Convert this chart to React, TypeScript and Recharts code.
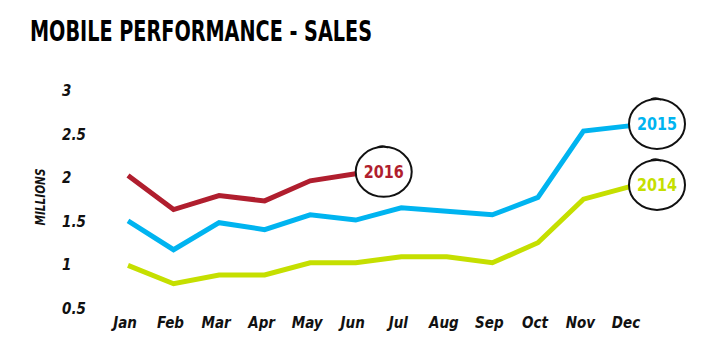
import { LineChart, Line, XAxis, YAxis } from 'recharts'

const months = ['Jan', 'Feb', 'Mar', 'Apr', 'May', 'Jun', 'Jul', 'Aug', 'Sep', 'Oct', 'Nov', 'Dec']
const sales2014 = [1.0, 0.79, 0.89, 0.89, 1.03, 1.03, 1.1, 1.1, 1.03, 1.26, 1.76, 1.9]
const sales2015 = [1.51, 1.18, 1.49, 1.41, 1.58, 1.52, 1.66, 1.62, 1.58, 1.78, 2.54, 2.6]
const sales2016 = [2.03, 1.64, 1.8, 1.74, 1.97, 2.05]
const yTicks = [0.5, 1, 1.5, 2, 2.5, 3]

const FONT = "'Liberation Sans Narrow', 'DejaVu Sans Condensed', sans-serif"

const SERIES = [
  { key: 'y2014', label: '2014', color: '#c5df00', last: sales2014.length - 1 },
  { key: 'y2015', label: '2015', color: '#00b4f0', last: sales2015.length - 1 },
  { key: 'y2016', label: '2016', color: '#b01e2e', last: sales2016.length - 1 },
]

const data = months.map((m, i) => ({
  month: m,
  y2014: sales2014[i] ?? null,
  y2015: sales2015[i] ?? null,
  y2016: sales2016[i] ?? null,
}))

function endBadge(label: string, color: string, last: number) {
  return (props: any) => {
    const { cx, cy, index } = props
    if (index !== last || cx == null || cy == null) return <g key={`d-${label}-${index}`} />
    const ex = cx + 28
    const ey = cy - 2
    return (
      <g key={`d-${label}-${index}`}>
        <ellipse cx={ex} cy={ey} rx={28} ry={25} fill="#fff" stroke="#111" strokeWidth={2} />
        <path
          d={`M ${ex - 6} ${ey - 25} q 6 -2 10 1`}
          fill="none"
          stroke="#111"
          strokeWidth={1.5}
        />
        <text
          x={ex}
          y={ey + 6}
          textAnchor="middle"
          fill={color}
          fontFamily={FONT}
          fontWeight="bold"
          fontSize={18}
          textLength={40}
          lengthAdjust="spacingAndGlyphs"
        >
          {label}
        </text>
      </g>
    )
  }
}

const YTick = (props: any) => (
  <text
    x={62}
    y={props.y}
    dy={5}
    textAnchor="start"
    fill="#111"
    fontFamily={FONT}
    fontWeight="bold"
    fontStyle="italic"
    fontSize={15}
  >
    {props.payload.value}
  </text>
)

const XTick = (props: any) => (
  <text
    x={props.x - 3}
    y={props.y}
    dy={19}
    textAnchor="middle"
    fill="#111"
    fontFamily={FONT}
    fontWeight="bold"
    fontStyle="italic"
    fontSize={15}
  >
    {props.payload.value}
  </text>
)

export default function App() {
  return (
    <div style={{ position: 'absolute', left: 0, top: 0, width: 706, height: 353, background: '#fff' }}>
      <LineChart width={706} height={353} data={data} margin={{ top: 91, right: 77, left: 0, bottom: 14 }}>
        <XAxis
          dataKey="month"
          axisLine={false}
          tickLine={false}
          tickSize={0}
          tickMargin={0}
          height={30}
          interval={0}
          tick={XTick}
        />
        <YAxis
          domain={[0.5, 3]}
          ticks={yTicks}
          axisLine={false}
          tickLine={false}
          width={128}
          tick={YTick}
        />
        {SERIES.map((s) => (
          <Line
            key={s.key}
            type="linear"
            dataKey={s.key}
            stroke={s.color}
            strokeWidth={5}
            dot={endBadge(s.label, s.color, s.last)}
            activeDot={false}
            isAnimationActive={false}
          />
        ))}
      </LineChart>
      <svg width={706} height={353} style={{ position: 'absolute', left: 0, top: 0, pointerEvents: 'none' }}>
        <text
          x={30}
          y={41}
          fontFamily={FONT}
          fontWeight="bold"
          fontSize={28}
          fill="#000"
          textLength={342}
          lengthAdjust="spacingAndGlyphs"
        >
          MOBILE PERFORMANCE - SALES
        </text>
        <text
          x={45}
          y={197}
          transform="rotate(-90 45 197)"
          textAnchor="middle"
          fontFamily={FONT}
          fontWeight="bold"
          fontStyle="italic"
          fontSize={14}
          fill="#111"
          textLength={57}
          lengthAdjust="spacingAndGlyphs"
        >
          MILLIONS
        </text>
      </svg>
    </div>
  )
}
